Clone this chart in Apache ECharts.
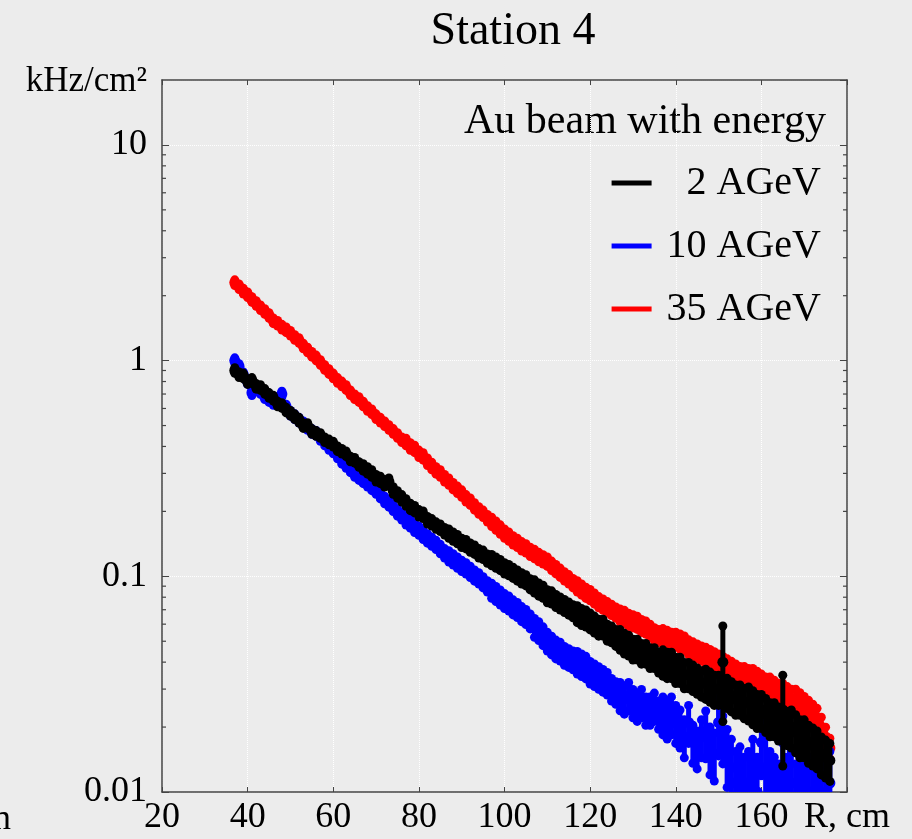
<!DOCTYPE html>
<html>
<head>
<meta charset="utf-8">
<script src="https://cdn.jsdelivr.net/npm/echarts@6.0.0/dist/echarts.min.js"></script>
<style>
  html, body { margin: 0; padding: 0; background: #ececec; }
  #chart { width: 912px; height: 839px; }
</style>
</head>
<body>
<div id="chart"></div>
<script>
// bin centres, R in cm
const radius = [
  37, 38, 39, 40, 41, 42, 43, 44, 45, 46,
  47, 48, 49, 50, 51, 52, 53, 54, 55, 56,
  57, 58, 59, 60, 61, 62, 63, 64, 65, 66,
  67, 68, 69, 70, 71, 72, 73, 74, 75, 76,
  77, 78, 79, 80, 81, 82, 83, 84, 85, 86,
  87, 88, 89, 90, 91, 92, 93, 94, 95, 96,
  97, 98, 99, 100, 101, 102, 103, 104, 105, 106,
  107, 108, 109, 110, 111, 112, 113, 114, 115, 116,
  117, 118, 119, 120, 121, 122, 123, 124, 125, 126,
  127, 128, 129, 130, 131, 132, 133, 134, 135, 136,
  137, 138, 139, 140, 141, 142, 143, 144, 145, 146,
  147, 148, 149, 150, 151, 152, 153, 154, 155, 156,
  157, 158, 159, 160, 161, 162, 163, 164, 165, 166,
  167, 168, 169, 170, 171, 172, 173, 174, 175, 176
];

// rate, kHz/cm^2 — 2 AGeV
const rate2 = [
  0.90, 0.86, 0.85, 0.80, 0.81, 0.76, 0.75, 0.72, 0.69, 0.67,
  0.63, 0.62, 0.59, 0.57, 0.55, 0.53, 0.50, 0.50, 0.47, 0.46,
  0.45, 0.43, 0.42, 0.41, 0.39, 0.38, 0.37, 0.35, 0.345, 0.33,
  0.32, 0.31, 0.30, 0.285, 0.28, 0.27, 0.275, 0.25, 0.24, 0.23,
  0.22, 0.21, 0.205, 0.196, 0.193, 0.182, 0.178, 0.172, 0.168, 0.162,
  0.158, 0.153, 0.149, 0.143, 0.141, 0.136, 0.133, 0.128, 0.126, 0.121,
  0.119, 0.116, 0.113, 0.109, 0.107, 0.104, 0.101, 0.098, 0.096, 0.092,
  0.090, 0.087, 0.085, 0.081, 0.080, 0.077, 0.075, 0.073, 0.071, 0.069,
  0.067, 0.065, 0.064, 0.062, 0.060, 0.058, 0.058, 0.055, 0.054, 0.052,
  0.051, 0.049, 0.048, 0.046, 0.046, 0.044, 0.044, 0.042, 0.042, 0.040,
  0.040, 0.039, 0.039, 0.037, 0.037, 0.035, 0.035, 0.034, 0.033, 0.032,
  0.032, 0.031, 0.030, 0.030, 0.040, 0.029, 0.028, 0.027, 0.027, 0.026,
  0.026, 0.025, 0.024, 0.024, 0.023, 0.022, 0.022, 0.021, 0.024, 0.020,
  0.020, 0.019, 0.018, 0.018, 0.017, 0.0165, 0.016, 0.015, 0.0145, 0.014
];
// relative error, %
const err2 = [
  3, 3, 3, 3, 3, 3, 3, 3, 3, 3,
  3, 3, 3, 3, 3, 3, 3, 3, 3, 3,
  3, 3, 3, 3, 3, 3, 3, 3, 3, 3,
  4, 4, 4, 4, 4, 4, 4, 4, 4, 4,
  4, 4, 4, 4, 4, 4, 4, 4, 4, 4,
  5, 5, 5, 5, 5, 5, 5, 5, 5, 5,
  6, 6, 6, 6, 6, 6, 6, 6, 6, 6,
  7, 7, 7, 7, 7, 7, 7, 7, 7, 7,
  9, 9, 9, 9, 9, 9, 9, 9, 9, 9,
  11, 11, 11, 11, 11, 11, 11, 11, 11, 11,
  14, 14, 14, 14, 14, 14, 14, 14, 14, 14,
  16, 16, 16, 16, 47, 16, 16, 16, 16, 16,
  18, 18, 18, 18, 18, 18, 18, 18, 45, 18,
  20, 20, 20, 20, 20, 20, 20, 20, 20, 20
];

// 10 AGeV
const rate10 = [
  1.00, 0.94, 0.86, 0.80, 0.71, 0.74, 0.72, 0.68, 0.66, 0.64,
  0.66, 0.70, 0.61, 0.57, 0.55, 0.53, 0.51, 0.49, 0.47, 0.46,
  0.44, 0.42, 0.40, 0.385, 0.365, 0.345, 0.33, 0.315, 0.30, 0.29,
  0.28, 0.27, 0.26, 0.25, 0.238, 0.226, 0.218, 0.208, 0.198, 0.19,
  0.182, 0.176, 0.168, 0.163, 0.156, 0.15, 0.145, 0.14, 0.134, 0.128,
  0.124, 0.12, 0.116, 0.112, 0.109, 0.105, 0.101, 0.098, 0.094, 0.09,
  0.086, 0.083, 0.080, 0.077, 0.075, 0.072, 0.070, 0.067, 0.065, 0.062,
  0.058, 0.056, 0.053, 0.050, 0.048, 0.046, 0.045, 0.043, 0.042, 0.041,
  0.040, 0.039, 0.038, 0.036, 0.035, 0.034, 0.033, 0.032, 0.030, 0.029,
  0.028, 0.027, 0.028, 0.026, 0.025, 0.026, 0.024, 0.024, 0.025, 0.023,
  0.023, 0.022, 0.023, 0.021, 0.020, 0.018, 0.021, 0.017, 0.016, 0.018,
  0.019, 0.016, 0.015, 0.021, 0.018, 0.015, 0.013, 0.011, 0.012, 0.010,
  0.011, 0.013, 0.010, 0.017, 0.013, 0.011, 0.010, 0.009, 0.012, 0.010,
  0.011, 0.009, 0.010, 0.013, 0.010, 0.009, 0.011, 0.010, 0.009, 0.011
];
const err10 = [
  3, 3, 3, 3, 3, 3, 3, 3, 3, 3,
  3, 3, 3, 3, 3, 3, 3, 3, 3, 3,
  4, 4, 4, 4, 4, 4, 4, 4, 4, 4,
  4, 4, 4, 4, 4, 4, 4, 4, 4, 4,
  5, 5, 5, 5, 5, 5, 5, 5, 5, 5,
  6, 6, 6, 6, 6, 6, 6, 6, 6, 6,
  8, 8, 8, 8, 8, 8, 8, 8, 8, 8,
  10, 10, 10, 10, 10, 10, 10, 10, 10, 10,
  12, 12, 12, 12, 12, 12, 12, 12, 12, 12,
  15, 15, 15, 15, 15, 15, 15, 15, 15, 15,
  20, 20, 20, 20, 20, 20, 20, 20, 20, 20,
  25, 25, 25, 30, 25, 30, 35, 40, 35, 45,
  40, 35, 45, 30, 40, 40, 45, 50, 40, 45,
  40, 50, 45, 35, 45, 50, 40, 45, 50, 40
];

// 35 AGeV
const rate35 = [
  2.30, 2.20, 2.10, 2.02, 1.92, 1.84, 1.76, 1.69, 1.62, 1.53,
  1.49, 1.43, 1.39, 1.34, 1.28, 1.24, 1.17, 1.12, 1.07, 1.03,
  0.98, 0.93, 0.89, 0.85, 0.81, 0.78, 0.75, 0.71, 0.68, 0.66,
  0.63, 0.60, 0.58, 0.55, 0.53, 0.51, 0.49, 0.47, 0.45, 0.43,
  0.42, 0.40, 0.39, 0.37, 0.36, 0.34, 0.325, 0.31, 0.30, 0.285,
  0.275, 0.262, 0.252, 0.242, 0.23, 0.222, 0.211, 0.202, 0.195, 0.186,
  0.179, 0.172, 0.165, 0.158, 0.153, 0.147, 0.143, 0.138, 0.135, 0.13,
  0.127, 0.123, 0.12, 0.117, 0.112, 0.108, 0.104, 0.100, 0.097, 0.093,
  0.090, 0.087, 0.084, 0.082, 0.079, 0.076, 0.074, 0.072, 0.070, 0.068,
  0.066, 0.065, 0.063, 0.062, 0.061, 0.059, 0.058, 0.056, 0.054, 0.053,
  0.053, 0.052, 0.051, 0.051, 0.050, 0.049, 0.047, 0.046, 0.045, 0.044,
  0.043, 0.042, 0.041, 0.040, 0.039, 0.038, 0.037, 0.036, 0.035, 0.035,
  0.034, 0.034, 0.033, 0.032, 0.031, 0.031, 0.030, 0.029, 0.029, 0.028,
  0.027, 0.027, 0.026, 0.025, 0.024, 0.023, 0.022, 0.020, 0.018, 0.016
];
const err35 = [
  3, 3, 3, 3, 3, 3, 3, 3, 3, 3,
  3, 3, 3, 3, 3, 3, 3, 3, 3, 3,
  3, 3, 3, 3, 3, 3, 3, 3, 3, 3,
  3, 3, 3, 3, 3, 3, 3, 3, 3, 3,
  4, 4, 4, 4, 4, 4, 4, 4, 4, 4,
  4, 4, 4, 4, 4, 4, 4, 4, 4, 4,
  5, 5, 5, 5, 5, 5, 5, 5, 5, 5,
  5, 5, 5, 5, 5, 5, 5, 5, 5, 5,
  6, 6, 6, 6, 6, 6, 6, 6, 6, 6,
  7, 7, 7, 7, 7, 7, 7, 7, 7, 7,
  8, 8, 8, 8, 8, 8, 8, 8, 8, 8,
  9, 9, 9, 9, 9, 9, 9, 9, 9, 9,
  10, 10, 10, 10, 10, 10, 10, 10, 10, 10,
  11, 11, 11, 11, 11, 11, 11, 11, 11, 11
];

// log minor ticks on the y axis
const minorTickValues = [
  0.02, 0.03, 0.04, 0.05, 0.06, 0.07, 0.08, 0.09,
  0.2, 0.3, 0.4, 0.5, 0.6, 0.7, 0.8, 0.9,
  2, 3, 4, 5, 6, 7, 8, 9
];

const serif = 'Liberation Serif';

const toPoints = (vals, errs) =>
  vals.map((v, i) => [radius[i], v, v * errs[i] / 100]);

// marker with error bar drawn as a dumbbell
const renderErr = (params, api) => {
  const x = api.value(0)
  const y = api.value(1)
  const e = api.value(2)
  const c = api.coord([x, y])
  const hi = api.coord([x, y + e])
  const lo = api.coord([x, Math.max(y - e, 1e-5)])
  const color = api.visual('color')
  return {
    type: 'group',
    children: [
      { type: 'line', shape: { x1: c[0], y1: hi[1], x2: c[0], y2: lo[1] }, style: { stroke: color, lineWidth: 5 } },
      { type: 'circle', shape: { cx: c[0], cy: hi[1], r: 4.5 }, style: { fill: color } },
      { type: 'circle', shape: { cx: c[0], cy: lo[1], r: 4.5 }, style: { fill: color } },
      { type: 'circle', shape: { cx: c[0], cy: c[1], r: 5.5 }, style: { fill: color } }
    ]
  }
}

const renderMinor = (params, api) => {
  const v = api.value(0)
  const l = api.coord([20, v])
  const r = api.coord([180, v])
  const st = { stroke: '#444', lineWidth: 1.2 }
  return {
    type: 'group',
    children: [
      { type: 'line', shape: { x1: l[0], y1: l[1], x2: l[0] + 4, y2: l[1] }, style: st },
      { type: 'line', shape: { x1: r[0], y1: r[1], x2: r[0] - 4, y2: r[1] }, style: st }
    ]
  }
}

const isDecade = v => Math.abs(Math.log10(v) - Math.round(Math.log10(v))) < 1e-6

const chart = echarts.init(document.getElementById('chart'))

const option = {
  backgroundColor: '#ececec',
  animation: false,
  title: {
    text: 'Station 4',
    left: 508,
    textAlign: 'center',
    top: 4,
    textStyle: { fontFamily: serif, fontSize: 46, fontWeight: 'normal', color: '#000' }
  },
  grid: { left: 162, right: 65, top: 80, bottom: 47 },
  legend: {
    data: [
      { name: '2 AGeV', icon: 'rect' },
      { name: '10 AGeV', icon: 'rect' },
      { name: '35 AGeV', icon: 'rect' }
    ],
    orient: 'vertical',
    align: 'left',
    right: 86,
    top: 158,
    itemWidth: 40,
    itemHeight: 5,
    itemGap: 23,
    selectedMode: false,
    formatter: n => (n === '2 AGeV' ? '   ' + n : ' ' + n),
    textStyle: { fontFamily: serif, fontSize: 40, color: '#000' }
  },
  graphic: [
    {
      type: 'text', x: 826, y: 122,
      style: { text: 'Au beam with energy', fontFamily: serif, fontSize: 42, fill: '#000', align: 'right', verticalAlign: 'middle' }
    },
    {
      type: 'text', x: -7, y: 820,
      style: { text: 'n', fontFamily: serif, fontSize: 36, fill: '#000', align: 'left', verticalAlign: 'middle' }
    }
  ],
  xAxis: [
    {
      type: 'value', min: 20, max: 180, interval: 20, position: 'bottom',
      axisLine: { show: true, lineStyle: { color: '#444', width: 1.5 } },
      axisTick: { show: true, inside: true, length: 5, lineStyle: { color: '#444' } },
      axisLabel: {
        fontFamily: serif, fontSize: 36, color: '#000', margin: 8,
        formatter: v => (v === 180 ? 'R, cm' : String(v))
      },
      splitLine: { show: true, lineStyle: { color: '#ffffff', type: 'dotted', width: 1 } }
    },
    {
      type: 'value', min: 20, max: 180, interval: 20, position: 'top',
      axisLine: { show: true, lineStyle: { color: '#444', width: 1.5 } },
      axisTick: { show: true, inside: true, length: 5, lineStyle: { color: '#444' } },
      axisLabel: { show: false },
      splitLine: { show: false }
    }
  ],
  yAxis: [
    {
      type: 'log', logBase: 10, min: 0.01, max: 20, position: 'left',
      name: 'kHz/cm²',
      nameLocation: 'end',
      nameGap: -2,
      nameTextStyle: { fontFamily: serif, fontSize: 35, color: '#000', align: 'right', verticalAlign: 'middle', padding: [0, 15, 0, 0] },
      axisLine: { show: true, lineStyle: { color: '#444', width: 1.5 } },
      axisTick: { show: true, inside: true, length: 7, lineStyle: { color: '#444' } },
      axisLabel: {
        fontFamily: serif, fontSize: 36, color: '#000', margin: 15, showMaxLabel: false,
        formatter: v => (isDecade(v) ? (v >= 1 ? String(Math.round(v)) : String(+v.toPrecision(1))) : '')
      },
      splitLine: { show: true, lineStyle: { color: '#ffffff', type: 'dotted', width: 1 } }
    },
    {
      type: 'log', logBase: 10, min: 0.01, max: 20, position: 'right',
      axisLine: { show: true, lineStyle: { color: '#444', width: 1.5 } },
      axisTick: { show: true, inside: true, length: 7, lineStyle: { color: '#444' } },
      axisLabel: { show: false },
      splitLine: { show: false }
    }
  ],
  series: [
    {
      name: 'minor', type: 'custom', silent: true, xAxisIndex: 0, yAxisIndex: 0,
      renderItem: renderMinor,
      data: minorTickValues.map(v => [v]),
      encode: { y: 0 }
    },
    {
      name: '35 AGeV', type: 'custom', clip: true, xAxisIndex: 0, yAxisIndex: 0,
      itemStyle: { color: '#ff0000' },
      renderItem: renderErr,
      encode: { x: 0, y: 1 },
      data: toPoints(rate35, err35)
    },
    {
      name: '10 AGeV', type: 'custom', clip: true, xAxisIndex: 0, yAxisIndex: 0,
      itemStyle: { color: '#0000ff' },
      renderItem: renderErr,
      encode: { x: 0, y: 1 },
      data: toPoints(rate10, err10)
    },
    {
      name: '2 AGeV', type: 'custom', clip: true, xAxisIndex: 0, yAxisIndex: 0,
      itemStyle: { color: '#000000' },
      renderItem: renderErr,
      encode: { x: 0, y: 1 },
      data: toPoints(rate2, err2)
    }
  ]
}

chart.setOption(option)
window.addEventListener('resize', () => chart.resize())
</script>
</body>
</html>
